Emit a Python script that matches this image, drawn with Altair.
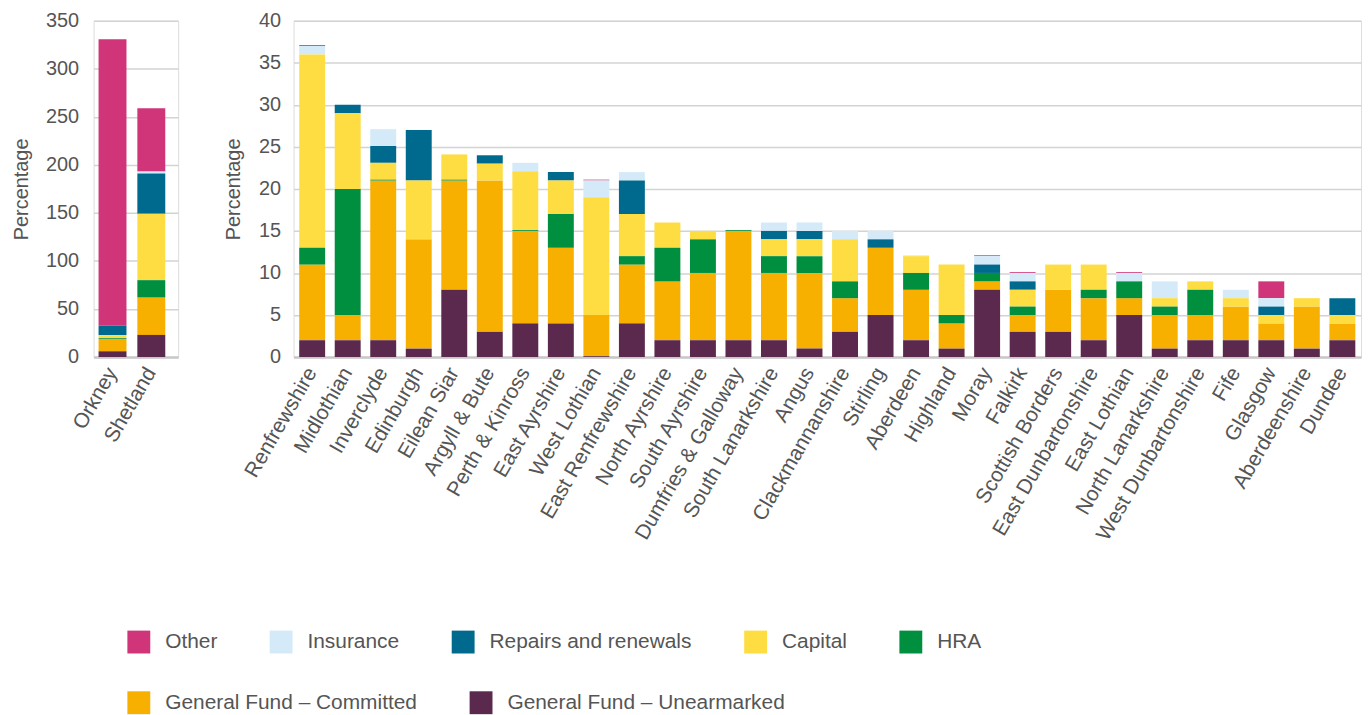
import altair as alt
import pandas as pd

# ---- Data -------------------------------------------------------------
islands = ["Orkney", "Shetland"]
isl_unearmarked = [6, 23]
isl_committed = [13, 39]
isl_hra = [0.8, 18]
isl_capital = [3, 69]
isl_repairs = [10, 42]
isl_insurance = [0, 2]
isl_other = [298, 66]

councils = ["Renfrewshire", "Midlothian", "Inverclyde", "Edinburgh", "Eilean Siar",
            "Argyll & Bute", "Perth & Kinross", "East Ayrshire", "West Lothian",
            "East Renfrewshire", "North Ayrshire", "South Ayrshire", "Dumfries & Galloway",
            "South Lanarkshire", "Angus", "Clackmannanshire", "Stirling", "Aberdeen",
            "Highland", "Moray", "Falkirk", "Scottish Borders", "East Dunbartonshire",
            "East Lothian", "North Lanarkshire", "West Dunbartonshire", "Fife", "Glasgow",
            "Aberdeenshire", "Dundee"]
unearmarked = [2, 2, 2, 1, 8, 3, 4, 4, 0.1, 4, 2, 2, 2, 2, 1, 3, 5, 2, 1, 8, 3, 3, 2, 5, 1, 2, 2, 2, 1, 2]
committed = [9, 3, 19, 13, 13, 18, 11, 9, 4.9, 7, 7, 8, 13, 8, 9, 4, 8, 6, 3, 1, 2, 5, 5, 2, 4, 3, 4, 2, 5, 2]
hra = [2, 15, 0.1, 0, 0.1, 0, 0.1, 4, 0, 1, 4, 4, 0.1, 2, 2, 2, 0, 2, 1, 1, 1, 0, 1, 2, 1, 3, 0, 0, 0, 0]
capital = [23, 9, 2, 7, 3, 2, 7, 4, 14, 5, 3, 1, 0, 2, 2, 5, 0, 2, 6, 0, 2, 3, 3, 0, 1, 1, 1, 1, 1, 1]
repairs = [0, 1, 2, 6, 0, 1, 0, 1, 0, 4, 0, 0, 0, 1, 1, 0, 1, 0, 0, 1, 1, 0, 0, 0, 0, 0, 0, 1, 0, 2]
insurance = [1, 0, 2, 0, 0, 0, 1, 0, 2, 1, 0, 0, 0, 1, 1, 1, 1, 0.1, 0, 1, 1, 0, 0, 1, 2, 0, 1, 1, 0, 0]
other = [0.1, 0, 0, 0, 0, 0, 0, 0, 0.1, 0, 0, 0, 0, 0, 0, 0, 0, 0, 0, 0.1, 0.1, 0, 0, 0.1, 0, 0, 0, 2, 0, 0]

series = ["Other", "Insurance", "Repairs and renewals", "Capital", "HRA",
          "General Fund – Committed", "General Fund – Unearmarked"]
colors = ["#d0357a", "#d4eaf8", "#006a8e", "#fedd42", "#008f3f", "#f8b000", "#5a294d"]

# legend rows (first row: first five series, second row: the two General Fund series)
row1_series, row1_colors = series[:5], colors[:5]
row2_series, row2_colors = series[5:], colors[5:]


def to_long(names, cols):
    rows = []
    for s, vals in zip(series, cols):
        stack = len(series) - 1 - series.index(s)
        for n, v in zip(names, vals):
            rows.append({"Area": n, "Series": s, "Value": v, "Stack": stack})
    return pd.DataFrame(rows)


df_isl = to_long(islands, [isl_other, isl_insurance, isl_repairs, isl_capital, isl_hra,
                           isl_committed, isl_unearmarked])
df_main = to_long(councils, [other, insurance, repairs, capital, hra, committed, unearmarked])

TXT = "#555555"


def make_legend(y):
    return alt.Legend(title=None, orient="none", legendX=34, legendY=y,
                      direction="horizontal", symbolType="square", symbolSize=529,
                      symbolStrokeWidth=0, symbolOpacity=1, labelFontSize=21,
                      labelColor=TXT, columnPadding=52, labelOffset=15, labelLimit=400)


x_axis = alt.Axis(title=None, labelAngle=-60, labelAlign="right", labelBaseline="middle",
                  labelFontSize=21, labelColor=TXT, labelPadding=12, labelLimit=400,
                  ticks=False, domain=True, domainColor="#c8c8c8", domainWidth=2.5,
                  grid=False)


def panel(df, names, xscale, ymax, ystep, lab_pad, title_pad, width):
    base = alt.Chart(df).transform_stack(
        stack="Value", groupby=["Area"], as_=["y0", "y1"],
        sort=[alt.SortField("Stack", order="ascending")]
    )
    x = alt.X("Area:N", sort=names, scale=xscale, axis=x_axis)
    y = alt.Y("y1:Q", scale=alt.Scale(domain=[0, ymax], nice=False),
              axis=alt.Axis(title="Percentage", values=list(range(0, ymax + 1, ystep)),
                            labelPadding=lab_pad, titlePadding=title_pad))
    top = base.transform_filter(
        alt.FieldOneOfPredicate(field="Series", oneOf=row1_series)
    ).mark_bar().encode(
        x=x, y=y, y2="y0:Q",
        color=alt.Color("Series:N", scale=alt.Scale(domain=row1_series, range=row1_colors),
                        legend=make_legend(613)),
    )
    bottom = base.transform_filter(
        alt.FieldOneOfPredicate(field="Series", oneOf=row2_series)
    ).mark_bar().encode(
        x=x, y=y, y2="y0:Q",
        fill=alt.Fill("Series:N", scale=alt.Scale(domain=row2_series, range=row2_colors),
                      legend=make_legend(674)),
    )
    return alt.layer(bottom, top).properties(width=width, height=338)


left = panel(df_isl, islands,
             alt.Scale(paddingInner=0.28, paddingOuter=0.23, align=0.28),
             350, 50, 15, 14, 85)
main = panel(df_main, councils,
             alt.Scale(paddingInner=0.27, paddingOuter=0.16),
             40, 5, 13, 15, 1073)

chart = alt.hconcat(left, main, spacing=44).resolve_scale(
    x="independent", y="independent", color="shared", fill="shared"
).properties(
    padding={"left": 3, "top": 0, "right": 0, "bottom": 0}
).configure_view(stroke=None).configure(
    font="Liberation Sans"
).configure_axisY(
    domain=False, ticks=False, grid=True, gridColor="#d3d3d3", gridWidth=1.5,
    labelFontSize=20, labelColor=TXT, titleFontSize=20, titleColor=TXT,
    titleFontWeight="normal"
)

chart.save("out.html", embed_options={"renderer": "svg", "actions": False})
